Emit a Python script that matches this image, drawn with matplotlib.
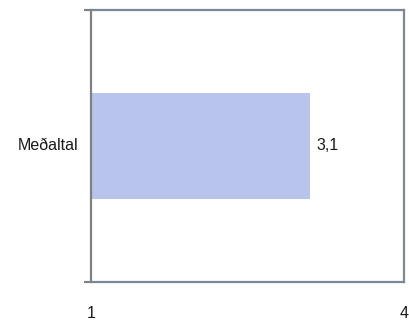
import matplotlib
matplotlib.use('Agg')
import matplotlib.pyplot as plt

plt.rcParams['font.family'] = ['Liberation Sans', 'DejaVu Sans']

flokkar = ['Meðaltal']
gildi = [3.1]
x_merki = [1, 4]

fig = plt.figure(figsize=(4.09, 3.22), dpi=100)
ax = fig.add_axes([91 / 409, 40 / 322, 313 / 409, 272 / 322])

ax.barh(range(len(flokkar)), [g - 1 for g in gildi], left=1, height=0.393,
        color='#b8c4ec', edgecolor='none')

for i, g in enumerate(gildi):
    ax.text(g + 0.06, i, ('%.1f' % g).replace('.', ','), va='center', ha='left',
            fontsize=11.5, color='#1a1a1a')
    ax.text(-0.04, i, flokkar[i], transform=ax.get_yaxis_transform(),
            va='center', ha='right', fontsize=11.5, color='#1a1a1a')

ax.set_xlim(1, 4)
ax.set_ylim(-0.5, 0.5)
ax.set_xticks(x_merki)
ax.set_xticklabels([str(v) for v in x_merki], fontsize=11.5, color='#1a1a1a')
ax.tick_params(axis='x', length=0, pad=17)
ax.set_yticks([-0.5, 0.5])
ax.set_yticklabels([])
ax.tick_params(axis='y', length=5, width=1.5, color='#808080')

ax.spines['left'].set_color('#808080')
ax.spines['left'].set_linewidth(1.6)
for s in ['top', 'right', 'bottom']:
    ax.spines[s].set_color('#7d879a')
    ax.spines[s].set_linewidth(1.6)

fig.savefig('out.png', dpi=100)
